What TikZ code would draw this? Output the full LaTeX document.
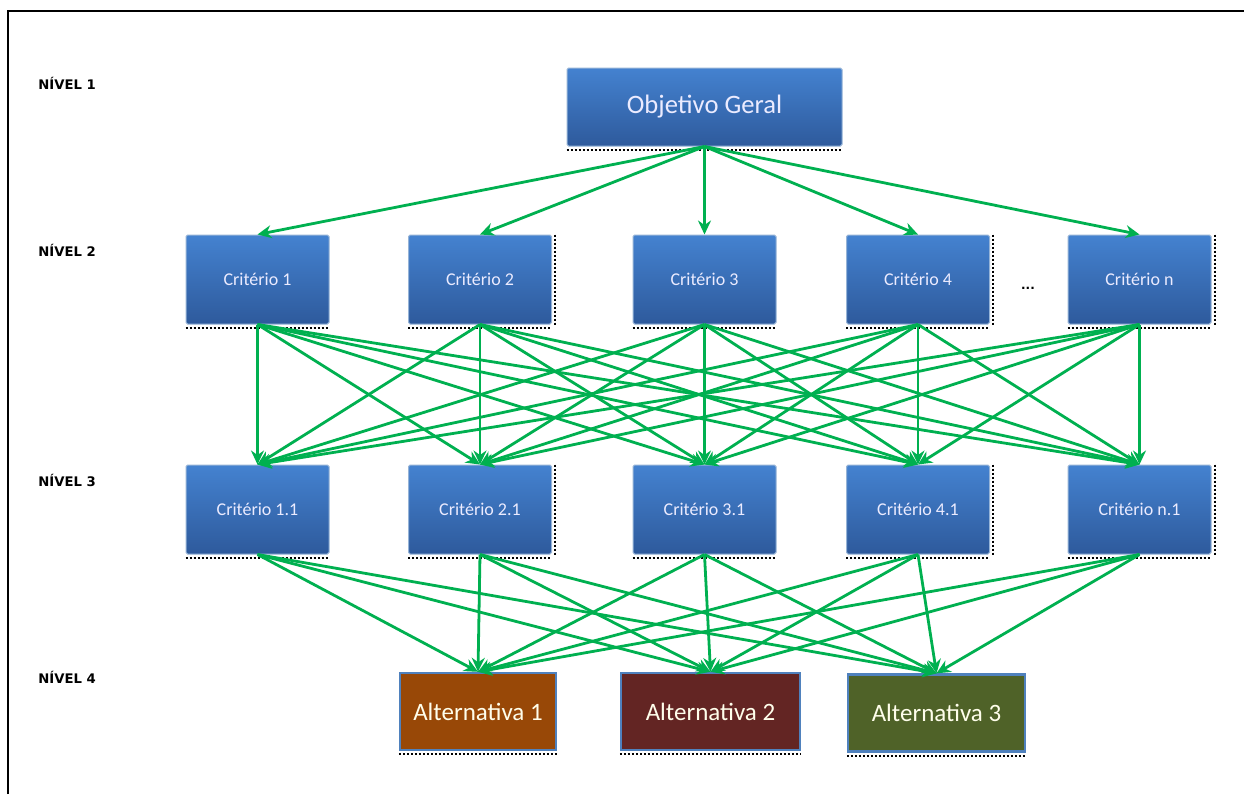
\documentclass[tikz,border=0pt]{standalone}
\usepackage{fontspec}
\setmainfont{Carlito}
\setsansfont{Carlito}
\newfontfamily\labelfont{DejaVu Sans}
\usetikzlibrary{arrows.meta}
\definecolor{linkgreen}{HTML}{00B050}
\definecolor{boxtop}{HTML}{4482D0}
\definecolor{boxbot}{HTML}{2E5A9C}
\definecolor{boxedge}{HTML}{95B3D7}
\definecolor{altone}{HTML}{984807}
\definecolor{alttwo}{HTML}{632523}
\definecolor{altthree}{HTML}{4F6228}
\definecolor{altedge}{HTML}{4F81BD}
\tikzset{
  x=0.5pt, y=-0.5pt,
  bluebox/.style={draw=boxedge, line width=0.5pt, top color=boxtop, bottom color=boxbot,
    text=white!92!blue, inner sep=0pt, rounded corners=0.8pt},
  critbox/.style={bluebox, minimum width=71.5pt, minimum height=44.5pt, font=\fontsize{9}{10}\selectfont},
  altbox/.style={draw=altedge, line width=1.2pt, text=white!92!yellow, inner sep=0pt,
    minimum height=38.5pt, font=\fontsize{12.5}{14}\selectfont},
  levellabel/.style={anchor=west, font=\labelfont\fontsize{6.6}{7}\selectfont\bfseries, inner sep=0pt},
  link/.style={draw=linkgreen, line width=1.4pt, -{Stealth[length=7pt,width=6.5pt]}},
  shadowline/.style={black, line width=1pt, dash pattern=on 1pt off 1pt}
}
\begin{document}
\begin{tikzpicture}
\useasboundingbox (0,0) rectangle (1244,794);
\fill[white] (0,0) rectangle (1244,794);
% frame
\draw[line width=1.2pt] (8,794) -- (8,11) -- (1244,11);

% level labels
\node[levellabel] (n1) at (38,83) {NÍVEL 1};
\node[levellabel] (n2) at (38,250) {NÍVEL 2};
\node[levellabel] (n3) at (38,480) {NÍVEL 3};
\node[levellabel] (n4) at (38,677) {NÍVEL 4};

% level 1
\node[bluebox, minimum width=137.5pt, minimum height=39pt, font=\fontsize{13.3}{15}\selectfont] (goal) at (704.5,107) {Objetivo Geral};

% level 2
\node[critbox] (c1) at (257.5,279.5) {Critério 1};
\node[critbox] (c2) at (480,279.5) {Critério 2};
\node[critbox] (c3) at (704.5,279.5) {Critério 3};
\node[critbox] (c4) at (918,279.5) {Critério 4};
\node[critbox] (cn) at (1139.5,279.5) {Critério n};
\node[font=\labelfont\fontsize{6}{7}\selectfont\bfseries, inner sep=0pt] (dots) at (1028,288) {...};

% level 3
\node[critbox] (d1) at (257.5,509.5) {Critério 1.1};
\node[critbox] (d2) at (480,509.5) {Critério 2.1};
\node[critbox] (d3) at (704.5,509.5) {Critério 3.1};
\node[critbox] (d4) at (918,509.5) {Critério 4.1};
\node[critbox] (dn) at (1139.5,509.5) {Critério n.1};

% level 4
\node[altbox, fill=altone, minimum width=78pt] (a1) at (478,711.5) {Alternativa 1};
\node[altbox, fill=alttwo, minimum width=89.5pt] (a2) at (710.5,711.5) {Alternativa 2};
\node[altbox, fill=altthree, minimum width=88.5pt] (a3) at (936.5,713) {Alternativa 3};

% dotted shadows under the boxes
\foreach \b in {goal,c1,c2,c3,c4,cn,d1,d2,d3,d4,dn,a1,a2,a3}
  \draw[shadowline] ([yshift=-1.5pt]\b.south west) -- ([yshift=-1.5pt]\b.south east);
\foreach \b in {c2,c4,cn,d2,d4,dn}
  \draw[shadowline] ([xshift=1.5pt]\b.north east) -- ([xshift=1.5pt]\b.south east);

% goal to criteria
\foreach \t in {c1,c2,c3,c4,cn}
  \draw[link] (goal.south) -- (\t.north);

% criteria to sub-criteria
\foreach \s in {c1,c2,c3,c4,cn}
  \foreach \t in {d1,d2,d3,d4,dn}
    \draw[link] (\s.south) -- (\t.north);

% sub-criteria to alternatives
\foreach \s in {d1,d2,d3,d4,dn}
  \foreach \t in {a1,a2,a3}
    \draw[link] (\s.south) -- (\t.north);
\end{tikzpicture}
\end{document}
